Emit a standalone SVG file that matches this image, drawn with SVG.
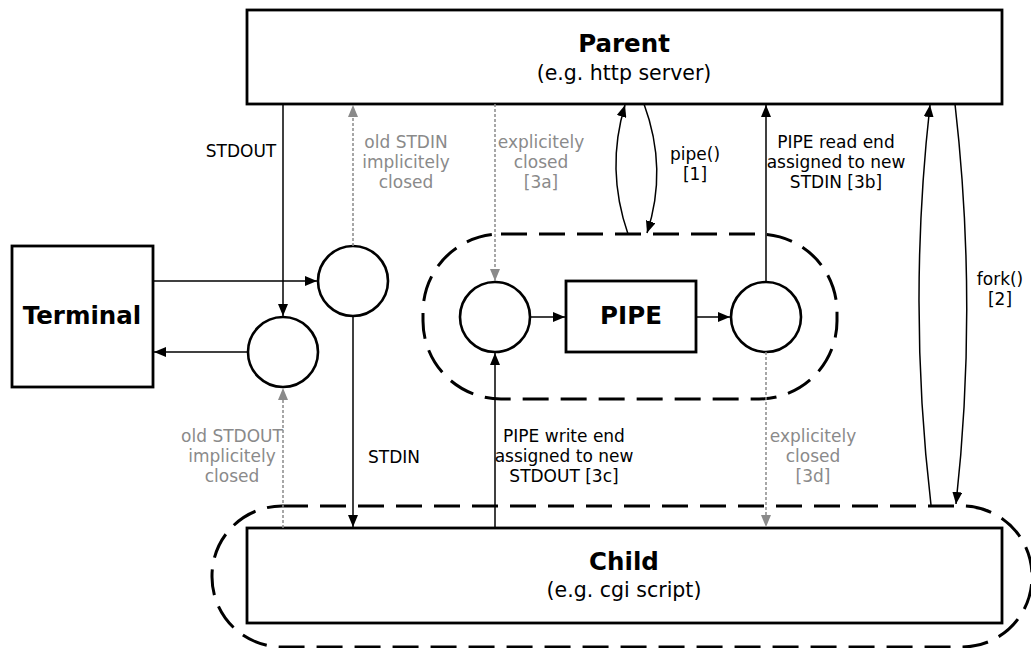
<svg xmlns="http://www.w3.org/2000/svg" width="1031" height="648" viewBox="0 0 1031 648">
<style>
.box{fill:#fff;stroke:#000;stroke-width:2.8}
.circ{fill:#fff;stroke:#000;stroke-width:2.6}
.grp{fill:none;stroke:#000;stroke-width:3;stroke-dasharray:26 12}
.ln{fill:none;stroke:#000;stroke-width:1.5}
.dot{fill:none;stroke:#8a8a8a;stroke-width:1.5;stroke-dasharray:3 2}
.t{font-family:"DejaVu Sans",Verdana,sans-serif;text-anchor:middle}
.title{font-size:24.5px;font-weight:bold}
.sub{font-size:20.5px}
.lbl{font-size:17px;fill:#000}
.gl{font-size:17px;fill:#8a8a8a}
</style>
<defs>
<marker id="ab" viewBox="0 0 12 10" refX="12" refY="5" markerWidth="12" markerHeight="10" markerUnits="userSpaceOnUse" orient="auto"><path d="M0,0 L12,5 L0,10 z" fill="#000"/></marker>
<marker id="ag" viewBox="0 0 12 10" refX="12" refY="5" markerWidth="12" markerHeight="10" markerUnits="userSpaceOnUse" orient="auto"><path d="M0,0 L12,5 L0,10 z" fill="#8a8a8a"/></marker>
</defs>
<rect width="1031" height="648" fill="#fff"/>

<g id="child-group"><rect class="grp" x="212" y="506" width="820" height="141" rx="70" ry="70"/></g>
<g id="pipe-group"><rect class="grp" x="423" y="234" width="414" height="165" rx="78" ry="78"/></g>

<g id="parent"><rect class="box" x="247" y="10" width="755" height="94"/>
<text class="t title" x="624" y="52">Parent</text>
<text class="t sub" x="624" y="80">(e.g. http server)</text></g>

<g id="child"><rect class="box" x="247" y="528" width="755" height="95"/>
<text class="t title" x="624" y="570">Child</text>
<text class="t sub" x="624" y="597">(e.g. cgi script)</text></g>

<g id="terminal"><rect class="box" x="12" y="246" width="141" height="141"/>
<text class="t title" x="82" y="324">Terminal</text></g>

<g id="stdout-fd"><circle class="circ" cx="283" cy="352" r="35"/></g>
<g id="stdin-fd"><circle class="circ" cx="353" cy="281" r="35"/></g>
<g id="pipe-write"><circle class="circ" cx="495" cy="317" r="35"/></g>
<g id="pipe-read"><circle class="circ" cx="766" cy="317" r="35"/></g>
<g id="pipe"><rect class="box" x="566" y="281" width="130" height="71"/>
<text class="t title" x="631" y="324">PIPE</text></g>

<g id="connectors">
<line class="ln" x1="283" y1="104" x2="283" y2="316" marker-end="url(#ab)"/>
<line class="dot" x1="353" y1="246" x2="353" y2="105" marker-end="url(#ag)"/>
<line class="ln" x1="153" y1="281" x2="317" y2="281" marker-end="url(#ab)"/>
<line class="ln" x1="248" y1="352" x2="154" y2="352" marker-end="url(#ab)"/>
<line class="ln" x1="353" y1="316" x2="353" y2="527" marker-end="url(#ab)"/>
<line class="dot" x1="283" y1="528" x2="283" y2="388" marker-end="url(#ag)"/>
<line class="dot" x1="495" y1="104" x2="495" y2="281" marker-end="url(#ag)"/>
<line class="ln" x1="495" y1="528" x2="495" y2="353" marker-end="url(#ab)"/>
<line class="ln" x1="530" y1="317" x2="565" y2="317" marker-end="url(#ab)"/>
<line class="ln" x1="696" y1="317" x2="730" y2="317" marker-end="url(#ab)"/>
<line class="ln" x1="766" y1="282" x2="766" y2="105" marker-end="url(#ab)"/>
<line class="dot" x1="766" y1="352" x2="766" y2="527" marker-end="url(#ag)"/>
<path class="ln" d="M628,234 Q605.5,169 625,105" marker-end="url(#ab)"/>
<path class="ln" d="M644,104 Q668,169 647,233" marker-end="url(#ab)"/>
<path class="ln" d="M931,505 Q907.5,305 930,105" marker-end="url(#ab)"/>
<path class="ln" d="M955,104 Q978,305 956,504" marker-end="url(#ab)"/>
</g>

<g id="labels">
<text class="t lbl" x="241" y="157">STDOUT</text>
<text class="t gl" x="406"><tspan x="406" y="148">old STDIN</tspan><tspan x="406" y="168">implicitely</tspan><tspan x="406" y="188">closed</tspan></text>
<text class="t gl" x="541"><tspan x="541" y="148">explicitely</tspan><tspan x="541" y="168">closed</tspan><tspan x="541" y="188">[3a]</tspan></text>
<text class="t lbl" x="695"><tspan x="695" y="160">pipe()</tspan><tspan x="695" y="180">[1]</tspan></text>
<text class="t lbl" x="836"><tspan x="836" y="148">PIPE read end</tspan><tspan x="836" y="168">assigned to new</tspan><tspan x="836" y="188">STDIN [3b]</tspan></text>
<text class="t lbl" x="1000"><tspan x="1000" y="285">fork()</tspan><tspan x="1000" y="305">[2]</tspan></text>
<text class="t gl" x="232"><tspan x="232" y="442">old STDOUT</tspan><tspan x="232" y="462">implicitely</tspan><tspan x="232" y="482">closed</tspan></text>
<text class="t lbl" x="394" y="463">STDIN</text>
<text class="t lbl" x="564"><tspan x="564" y="442">PIPE write end</tspan><tspan x="564" y="462">assigned to new</tspan><tspan x="564" y="482">STDOUT [3c]</tspan></text>
<text class="t gl" x="813"><tspan x="813" y="442">explicitely</tspan><tspan x="813" y="462">closed</tspan><tspan x="813" y="482">[3d]</tspan></text>
</g>
</svg>
